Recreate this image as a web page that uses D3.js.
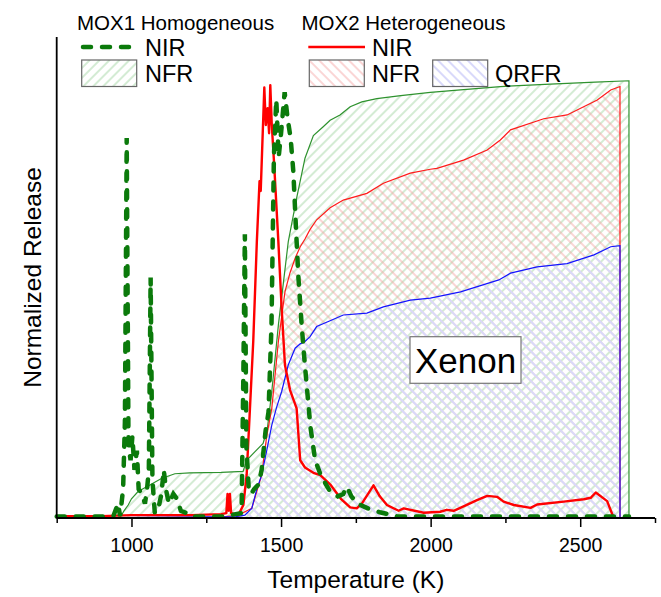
<!DOCTYPE html>
<html>
<head>
<meta charset="utf-8">
<script src="https://cdn.jsdelivr.net/npm/d3@7"></script>
<style>
  body { margin: 0; background: #fff; }
  text { font-family: Arial, "Liberation Sans", sans-serif; fill: #000; }
</style>
</head>
<body>
<svg id="chart" width="661" height="597"></svg>
<script>
// temperature range and tick labels
const xDomain = [750, 2750];
const xTickLabels = [1000, 1500, 2000, 2500];
const xMinorTicks = [750, 1250, 1750, 2250, 2750];

// MOX1 homogeneous - NIR (dashed green), [K, normalized release]
const mox1Nir = [
  [750, 0.003], [900, 0.003], [940, 0.005], [955, 0.03], [962, 0.004], [972, 0.06], [978, 0.2],
  [984, 0.79], [990, 0.15], [997, 0.12], [1003, 0.17], [1010, 0.1], [1018, 0.14], [1024, 0.06],
  [1035, 0.05], [1045, 0.03], [1052, 0.06], [1058, 0.1], [1064, 0.5], [1070, 0.08], [1078, 0.01],
  [1090, 0.02], [1100, 0.05], [1108, 0.1], [1115, 0.06], [1125, 0.03], [1140, 0.05], [1152, 0.04],
  [1165, 0.015], [1185, 0.01], [1200, 0.003], [1300, 0.003], [1368, 0.01], [1374, 0.3],
  [1379, 0.59], [1384, 0.15], [1392, 0.06], [1400, 0.05], [1410, 0.06], [1425, 0.07], [1435, 0.1],
  [1448, 0.18], [1458, 0.22], [1468, 0.4], [1476, 0.75], [1484, 0.87], [1492, 0.75], [1500, 0.8],
  [1512, 0.885], [1522, 0.83], [1532, 0.79], [1541, 0.72], [1550, 0.6], [1558, 0.5], [1569, 0.4],
  [1578, 0.33], [1588, 0.26], [1598, 0.19], [1614, 0.12], [1632, 0.09], [1650, 0.07],
  [1664, 0.055], [1690, 0.045], [1708, 0.05], [1720, 0.065], [1735, 0.045], [1755, 0.03],
  [1790, 0.02], [1830, 0.012], [1890, 0.003], [2663, 0.003]
];

// MOX1 homogeneous - NFR (green hatched)
const mox1Nfr = [
  [750, 0], [955, 0], [965, 0.004], [975, 0.015], [989, 0.027], [1000, 0.04], [1022, 0.055],
  [1060, 0.068], [1100, 0.082], [1145, 0.092], [1195, 0.094], [1300, 0.095], [1373, 0.097],
  [1385, 0.12], [1413, 0.138], [1440, 0.155], [1455, 0.19], [1469, 0.263], [1491, 0.401],
  [1524, 0.574], [1552, 0.665], [1580, 0.748], [1608, 0.795], [1640, 0.813], [1664, 0.827],
  [1697, 0.838], [1731, 0.855], [1770, 0.865], [1820, 0.872], [1900, 0.878], [1999, 0.885],
  [2100, 0.89], [2233, 0.897], [2400, 0.902], [2550, 0.906], [2663, 0.909]
];

// MOX2 heterogeneous - NIR (solid red)
const mox2Nir = [
  [750, 0.004], [900, 0.004], [1000, 0.006], [1200, 0.006], [1300, 0.008], [1317, 0.01],
  [1321, 0.05], [1325, 0.015], [1329, 0.05], [1333, 0.01], [1357, 0.006], [1374, 0.027],
  [1385, 0.09], [1396, 0.228], [1407, 0.367], [1419, 0.574], [1428, 0.7], [1432, 0.68],
  [1437, 0.77], [1444, 0.895], [1449, 0.817], [1455, 0.852], [1460, 0.8], [1464, 0.9],
  [1469, 0.817], [1477, 0.734], [1491, 0.574], [1502, 0.436], [1513, 0.318], [1530, 0.266],
  [1552, 0.228], [1564, 0.12], [1580, 0.105], [1608, 0.094], [1631, 0.089], [1664, 0.07],
  [1700, 0.04], [1731, 0.022], [1753, 0.02], [1770, 0.03], [1809, 0.068], [1830, 0.045],
  [1854, 0.027], [1893, 0.015], [1910, 0.02], [1977, 0.011], [2032, 0.013], [2054, 0.017],
  [2077, 0.015], [2110, 0.024], [2155, 0.037], [2189, 0.046], [2222, 0.044], [2244, 0.034],
  [2278, 0.027], [2334, 0.021], [2356, 0.028], [2445, 0.034], [2512, 0.039], [2535, 0.042],
  [2552, 0.053], [2590, 0.035], [2612, 0.0]
];

// MOX2 heterogeneous - NFR (red hatched)
const mox2Nfr = [
  [750, 0], [1300, 0.002], [1357, 0.006], [1402, 0.02], [1435, 0.089], [1452, 0.17],
  [1469, 0.228], [1491, 0.367], [1513, 0.47], [1530, 0.51], [1547, 0.54], [1564, 0.564],
  [1580, 0.58], [1597, 0.6], [1619, 0.62], [1664, 0.645], [1708, 0.661], [1787, 0.675],
  [1842, 0.696], [1932, 0.717], [1999, 0.725], [2021, 0.727], [2110, 0.744], [2189, 0.765],
  [2233, 0.786], [2267, 0.807], [2378, 0.83], [2456, 0.838], [2557, 0.869], [2602, 0.89],
  [2633, 0.897]
];

// MOX2 heterogeneous - QRFR (blue hatched)
const mox2Qrfr = [
  [750, 0], [1350, 0.003], [1379, 0.006], [1402, 0.02], [1419, 0.06], [1435, 0.089],
  [1452, 0.14], [1469, 0.193], [1485, 0.23], [1502, 0.263], [1524, 0.318], [1547, 0.353],
  [1564, 0.362], [1580, 0.367], [1597, 0.377], [1619, 0.398], [1664, 0.41], [1708, 0.422],
  [1787, 0.426], [1842, 0.439], [1932, 0.453], [1999, 0.457], [2100, 0.47], [2228, 0.495],
  [2267, 0.509], [2356, 0.522], [2456, 0.529], [2546, 0.547], [2602, 0.564], [2633, 0.566]
];

const svg = d3.select("#chart");
const plot = { left: 56.7, right: 655, top: 37, bottom: 518 };

const x = d3.scaleLinear().domain(xDomain).range([plot.left, plot.right]);
const y = d3.scaleLinear().domain([0, 1]).range([plot.bottom, plot.top]);

// hatch patterns
const defs = svg.append("defs");
const hatch = (id, color, angle, cover) => {
  const p = defs.append("pattern")
    .attr("id", id)
    .attr("patternUnits", "userSpaceOnUse")
    .attr("width", 7)
    .attr("height", 7)
    .attr("patternTransform", `rotate(${angle})`);
  if (cover) {
    // white strip hides the red hatch lying underneath
    p.append("line")
      .attr("x1", 1).attr("y1", 0)
      .attr("x2", 1).attr("y2", 7)
      .attr("stroke", "#fff")
      .attr("stroke-width", 2);
  }
  p.append("line")
    .attr("x1", 1).attr("y1", 0)
    .attr("x2", 1).attr("y2", 7)
    .attr("stroke", color)
    .attr("stroke-width", 0.9);
};
hatch("hGreen", "#9fd49f", 45, false);
hatch("hRed", "#f5a3a3", -45, false);
hatch("hBlue", "#aaaaf4", -45, true);

const area = d3.area()
  .x(d => x(d[0]))
  .y0(y(0))
  .y1(d => y(d[1]));
const line = d3.line()
  .x(d => x(d[0]))
  .y(d => y(d[1]));

// hatched areas (back to front)
svg.append("path").datum(mox1Nfr).attr("d", area).attr("fill", "url(#hGreen)");
svg.append("path").datum(mox2Nfr).attr("d", area).attr("fill", "url(#hRed)");
svg.append("path").datum(mox2Qrfr).attr("d", area).attr("fill", "url(#hBlue)");

// area outlines with the drop at the end
const outline = (data, color) => {
  const last = data[data.length - 1];
  svg.append("path")
    .datum(data.concat([[last[0], 0]]))
    .attr("d", line)
    .attr("fill", "none")
    .attr("stroke", color)
    .attr("stroke-width", 1.2);
};
outline(mox1Nfr, "#2e922e");
outline(mox2Nfr, "#ff1a1a");
outline(mox2Qrfr, "#1414ff");

// NIR lines
svg.append("path").datum(mox2Nir)
  .attr("d", line)
  .attr("fill", "none")
  .attr("stroke", "#ff0000")
  .attr("stroke-width", 2.4)
  .attr("stroke-linejoin", "round");

svg.append("path").datum(mox1Nir)
  .attr("d", line)
  .attr("fill", "none")
  .attr("stroke", "#0b7a0b")
  .attr("stroke-width", 4.5)
  .attr("stroke-linecap", "round")
  .attr("stroke-dasharray", "8,11");

// axes
const xAxis = d3.axisBottom(x)
  .tickValues(xTickLabels)
  .tickSize(9)
  .tickPadding(11)
  .tickFormat(d3.format("d"));
const gx = svg.append("g")
  .attr("transform", `translate(0,${plot.bottom})`)
  .call(xAxis);
gx.select(".domain").remove();
gx.selectAll("line").attr("stroke", "#000").attr("stroke-width", 1.5);
gx.selectAll("text").style("font-size", "19.5px").attr("fill", "#000");

const gxMinor = svg.append("g")
  .attr("transform", `translate(0,${plot.bottom})`)
  .call(d3.axisBottom(x).tickValues(xMinorTicks).tickSize(5).tickFormat(""));
gxMinor.select(".domain").remove();
gxMinor.selectAll("line").attr("stroke", "#000").attr("stroke-width", 1.5);

svg.append("line")
  .attr("x1", plot.left).attr("x2", plot.right)
  .attr("y1", plot.bottom).attr("y2", plot.bottom)
  .attr("stroke", "#000").attr("stroke-width", 1.8);
svg.append("line")
  .attr("x1", plot.left).attr("x2", plot.left)
  .attr("y1", plot.top).attr("y2", plot.bottom)
  .attr("stroke", "#000").attr("stroke-width", 1.8);

// axis titles
svg.append("text")
  .attr("x", (plot.left + plot.right) / 2)
  .attr("y", 588)
  .attr("text-anchor", "middle")
  .style("font-size", "24.5px")
  .text("Temperature (K)");
svg.append("text")
  .attr("transform", `translate(41,${(plot.top + plot.bottom) / 2}) rotate(-90)`)
  .attr("text-anchor", "middle")
  .style("font-size", "24.5px")
  .text("Normalized Release");

// Xenon label
svg.append("rect")
  .attr("x", 410).attr("y", 336.7)
  .attr("width", 111).attr("height", 46.6)
  .attr("fill", "#fff")
  .attr("stroke", "#777")
  .attr("stroke-width", 1.2);
svg.append("text")
  .attr("x", 465.5).attr("y", 372.5)
  .attr("text-anchor", "middle")
  .style("font-size", "35px")
  .text("Xenon");

// legend
const legend = svg.append("g");
const legendText = (tx, ty, s, size) => legend.append("text")
  .attr("x", tx).attr("y", ty)
  .style("font-size", size)
  .text(s);
const legendBox = (bx, fill) => legend.append("rect")
  .attr("x", bx).attr("y", 60)
  .attr("width", 55).attr("height", 26.5)
  .attr("fill", fill)
  .attr("stroke", "#666")
  .attr("stroke-width", 1.2);

legendText(77, 30, "MOX1 Homogeneous", "20.5px");
legend.append("line")
  .attr("x1", 83).attr("x2", 132).attr("y1", 47).attr("y2", 47)
  .attr("stroke", "#0b7a0b")
  .attr("stroke-width", 4.5)
  .attr("stroke-linecap", "round")
  .attr("stroke-dasharray", "8,11");
legendText(145, 56, "NIR", "23.5px");
legendBox(81.7, "url(#hGreen)");
legendText(145, 82, "NFR", "23.5px");

legendText(301.5, 30, "MOX2 Heterogeneous", "20.5px");
legend.append("line")
  .attr("x1", 308.3).attr("x2", 365).attr("y1", 47).attr("y2", 47)
  .attr("stroke", "#ff0000")
  .attr("stroke-width", 2.4);
legendText(372, 56, "NIR", "23.5px");
legendBox(309.3, "url(#hRed)");
legendText(372, 82, "NFR", "23.5px");
legendBox(432.7, "url(#hBlue)");
legendText(495, 82, "QRFR", "23.5px");
</script>
</body>
</html>
